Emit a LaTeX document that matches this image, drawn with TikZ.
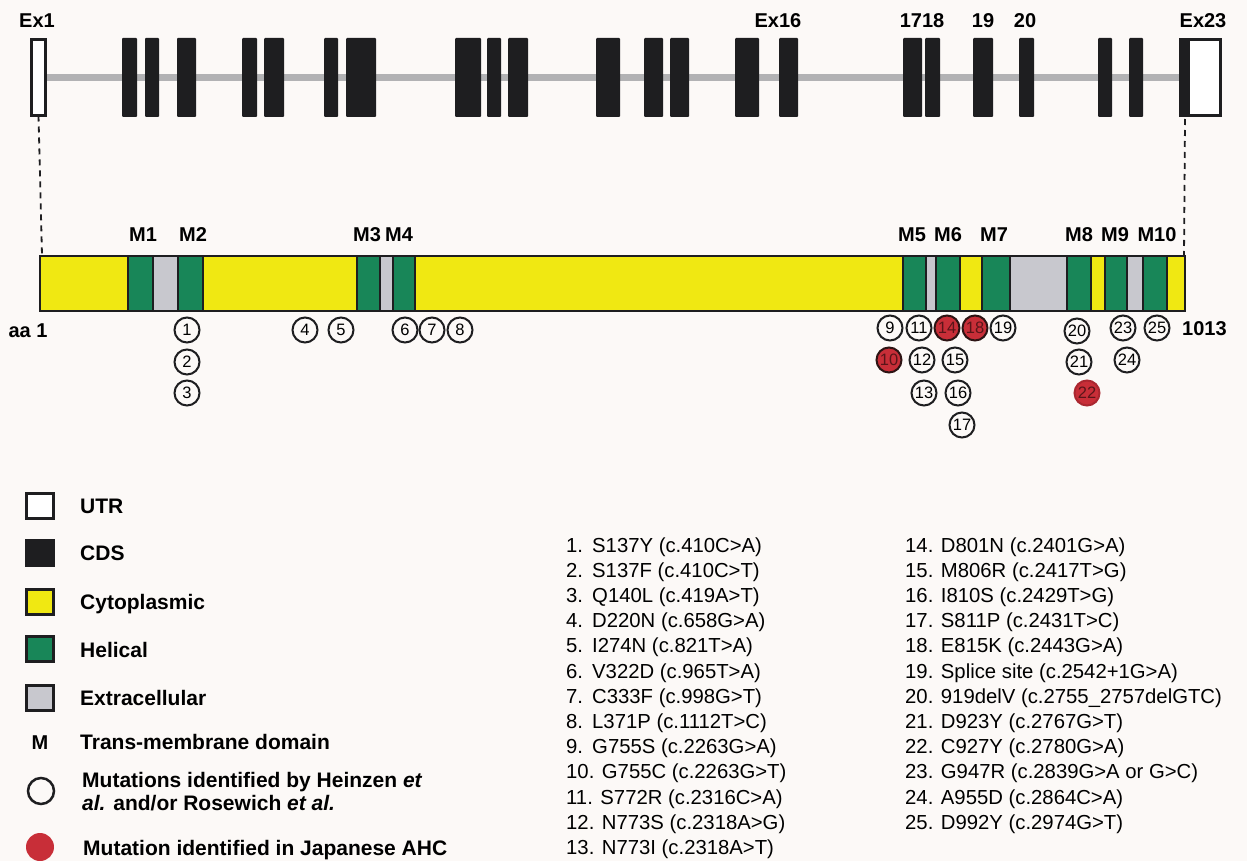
\documentclass[tikz,border=0pt]{standalone}
\usepackage{fontspec}
\setmainfont{Liberation Sans}
\usetikzlibrary{calc}
\definecolor{cdsblack}{RGB}{30,30,32}
\definecolor{cyto}{RGB}{240,232,18}
\definecolor{helix}{RGB}{24,134,88}
\definecolor{extra}{RGB}{200,200,206}
\definecolor{intron}{RGB}{178,178,180}
\definecolor{mutred}{RGB}{200,46,56}
\definecolor{mutedge}{RGB}{45,20,20}
\definecolor{paper}{RGB}{252,249,247}
\tikzset{
  exon/.style={fill=cdsblack, rounded corners=1pt},
  utrbox/.style={draw=cdsblack, line width=3pt, inner sep=0pt, outer sep=0pt},
  seg/.style={draw=cdsblack, line width=1.6pt},
  lab/.style={font=\fontsize{20}{24}\selectfont\bfseries, inner sep=0pt, anchor=base},
  legtxt/.style={font=\fontsize{21}{24}\selectfont\bfseries, inner sep=0pt, anchor=base west},
  listtxt/.style={font=\fontsize{20.3}{24}\selectfont, inner sep=0pt, anchor=base west},
  mut/.style={circle, draw=cdsblack, line width=2pt, fill=paper, minimum size=25pt,
    inner sep=0pt, font=\fontsize{16.5}{16.5}\selectfont},
  jmut/.style={mut, fill=mutred, draw=mutedge, text=mutred!45!black},
  legbox/.style={draw=cdsblack, line width=2.5pt, minimum width=27pt, minimum height=25pt,
    inner sep=0pt},
  dashline/.style={draw=cdsblack, line width=1.8pt, dash pattern=on 6pt off 5pt},
}
\begin{document}
\begin{tikzpicture}[x=1pt,y=-1pt]
\useasboundingbox[fill=paper] (0,0) rectangle (1247,861);

% ---------- gene structure ----------
\draw[intron, line width=7pt] (47,78) -- (1179,78);
\foreach \a/\b in {122/137,145/159,177/196,242/257,264/284,324/338,346/376,
                   455/481,487/501,508/528,596/620,644/663,670/689,735/759,779/798,
                   903/922,925/940,973/993,1019/1034,1098/1112,1129/1143}
  \fill[exon] (\a,38) rectangle (\b,117);
% first exon (UTR only)
\node[utrbox, fill=white, minimum width=14pt, minimum height=76pt] (ex1) at (38.5,77.5) {};
% last exon: coding part then UTR
\fill[white] (1179,38) rectangle (1222,117);
\fill[cdsblack] (1179,38) rectangle (1190,117);
\node[utrbox, minimum width=40pt, minimum height=76pt] (ex23) at (1200.5,77.5) {};

\node[lab] (lex1)  at (37,28)   {Ex1};
\node[lab] (lex16) at (778,28)  {Ex16};
\node[lab] (lex17) at (922,28)  {1718};
\node[lab] (lex19) at (983,28)  {19};
\node[lab] (lex20) at (1025,28) {20};
\node[lab] (lex23) at (1203,28) {Ex23};

% ---------- protein ----------
\foreach \a/\b/\c in {40/128/cyto,128/153/helix,153/178/extra,178/203/helix,
                      203/357/cyto,357/380/helix,380/393/extra,393/415/helix,
                      415/903/cyto,903/926/helix,926/936/extra,936/960/helix,
                      960/982/cyto,982/1010/helix,1010/1067/extra,1067/1091/helix,
                      1091/1105/cyto,1105/1127/helix,1127/1143/extra,1143/1167/helix,
                      1167/1185/cyto}
  \draw[seg, fill=\c] (\a,256) rectangle (\b,311);
\draw[cdsblack, line width=2.8pt] (40,256) rectangle (1185,311);
\coordinate (barNW) at (42,255);
\coordinate (barNE) at (1184,255);
\coordinate (ex23cut) at (1185,119);

\draw[dashline] (ex1.south) -- (barNW);
\draw[dashline] (ex23cut) -- (barNE);

\foreach \t/\x in {M1/143,M2/193,M3/367,M4/399,M5/912,M6/948,M7/994,M8/1079,M9/1115,M10/1157}
  \node[lab] (l\t) at (\x,241) {\t};
\node[lab] (aa1) at (28,337) {aa 1};
\node[lab, anchor=base west] (aaend) at (1182,335) {1013};

% mutation sites
\foreach \n/\x/\y in {1/187/330,2/187/362,3/187/393,4/305/330,5/341/330,
                      6/405/330,7/432/330,8/460/330,9/890/328,11/919/328,
                      12/922/360,13/924/393,15/955/360,16/958/393,17/962/425,
                      19/1003/328,20/1077/331,21/1079/362,23/1123/328,
                      24/1127/360,25/1157/328}
  \node[mut] (s\n) at (\x,\y) {\n};
\foreach \n/\x/\y in {10/889/360,14/947/328,18/975/328}
  \node[jmut] (s\n) at (\x,\y) {\n};
\node[jmut, draw=mutred!85!black] (s22) at (1087,393) {22};

% ---------- legend ----------
\node[legbox, fill=white]     (kutr)  at (40,506) {};
\node[legbox, fill=cdsblack]  (kcds)  at (40,553) {};
\node[legbox, fill=cyto]      (kcyto) at (40,602) {};
\node[legbox, fill=helix]     (khel)  at (40,649) {};
\node[legbox, fill=extra]     (kext)  at (40,698) {};
\node[legtxt] (tutr)  at (80,513) {UTR};
\node[legtxt] (tcds)  at (80,560) {CDS};
\node[legtxt] (tcyto) at (80,609) {Cytoplasmic};
\node[legtxt] (thel)  at (80,657) {Helical};
\node[legtxt] (text)  at (80,705) {Extracellular};
\node[lab] (km) at (40,749) {M};
\node[legtxt] (tm) at (80,749) {Trans-membrane domain};
\node[circle, draw=cdsblack, line width=2.5pt, minimum size=26pt, inner sep=0pt] (kopen) at (41,791) {};
\node[legtxt] (topen1) at (82,787) {Mutations identified by Heinzen \textit{et}};
\node[legtxt] (topen2) at (82,810) {\textit{al.} and/or Rosewich \textit{et al.}};
\node[circle, fill=mutred, minimum size=28pt, inner sep=0pt] (kred) at (40,847) {};
\node[legtxt] (tred) at (83,855) {Mutation identified in Japanese AHC};

% ---------- mutation list ----------
\foreach \i/\t in {1/S137Y (c.410C>A),2/S137F (c.410C>T),3/Q140L (c.419A>T),
                   4/D220N (c.658G>A),5/I274N (c.821T>A),6/V322D (c.965T>A),
                   7/C333F (c.998G>T),8/L371P (c.1112T>C),9/G755S (c.2263G>A)}{
  \pgfmathsetmacro\yy{552+25.2*(\i-1)}
  \node[listtxt] (n\i) at (566,\yy) {\i.};
  \node[listtxt] (t\i) at (592,\yy) {\t};
}
\foreach \i/\t in {10/G755C (c.2263G>T),11/S772R (c.2316C>A),12/N773S (c.2318A>G),
                   13/N773I (c.2318A>T)}{
  \pgfmathsetmacro\yy{552+25.2*(\i-1)}
  \node[listtxt] (t\i) at (566,\yy) {\i. \t};
}
\foreach \i/\t in {14/D801N (c.2401G>A),15/M806R (c.2417T>G),16/I810S (c.2429T>G),
                   17/S811P (c.2431T>C),18/E815K (c.2443G>A),19/Splice site (c.2542+1G>A),
                   20/919delV (c.2755\_2757delGTC),21/D923Y (c.2767G>T),22/C927Y (c.2780G>A),
                   23/G947R (c.2839G>A or G>C),24/A955D (c.2864C>A),25/D992Y (c.2974G>T)}{
  \pgfmathsetmacro\yy{552+25.2*(\i-14)}
  \node[listtxt] (t\i) at (905,\yy) {\i. \t};
}
\end{tikzpicture}
\end{document}
